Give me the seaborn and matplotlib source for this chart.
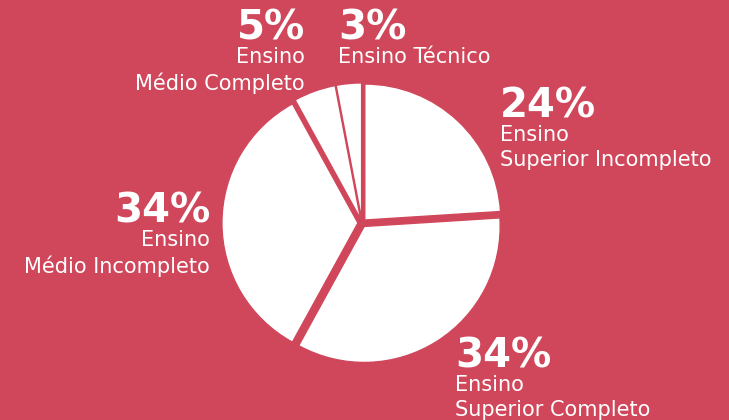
import matplotlib
matplotlib.use("Agg")
import matplotlib.pyplot as plt
import seaborn as sns

BG = "#D0475B"

categories = ["Ensino\nSuperior Incompleto", "Ensino\nSuperior Completo",
              "Ensino\nMédio Incompleto", "Ensino\nMédio Completo", "Ensino Técnico"]
shares = [24, 34, 34, 5, 3]
pct_labels = ["24%", "34%", "34%", "5%", "3%"]

sns.set_theme(style="white")
plt.rcParams["font.family"] = ["DejaVu Sans"]

W, H = 729, 420
fig = plt.figure(figsize=(W / 100, H / 100), dpi=100, facecolor=BG)

# pie centre / radius in pixels
cx, cy, r = 362, 223, 136
ax = fig.add_axes([(cx - r) / W, (H - cy - r) / H, 2 * r / W, 2 * r / H])
ax.set_facecolor(BG)
wedges, _ = ax.pie(shares, startangle=90, counterclock=False,
                   colors=["white"] * len(shares), explode=[0.03] * len(shares),
                   wedgeprops=dict(linewidth=1.0, edgecolor=BG))
for w in wedges:
    w.set_clip_on(False)
ax.set_xlim(-1, 1)
ax.set_ylim(-1, 1)
ax.set_aspect("auto")
ax.axis("off")

# label anchors (pixel x, pixel y of percent top, alignment)
anchors = [(500, 87, "left"), (455, 337, "left"), (210, 192, "right"),
           (305, 9, "right"), (338, 9, "left")]

for (x, y, ha), pct, cat in zip(anchors, pct_labels, categories):
    fig.text(x / W, 1 - y / H, pct, ha=ha, va="top", color="white",
             fontsize=29, fontweight="bold")
    fig.text(x / W, 1 - (y + 38) / H, cat, ha=ha, va="top", color="white",
             fontsize=15, linespacing=1.3, multialignment=ha)

fig.savefig("out.png", dpi=100, facecolor=BG)
